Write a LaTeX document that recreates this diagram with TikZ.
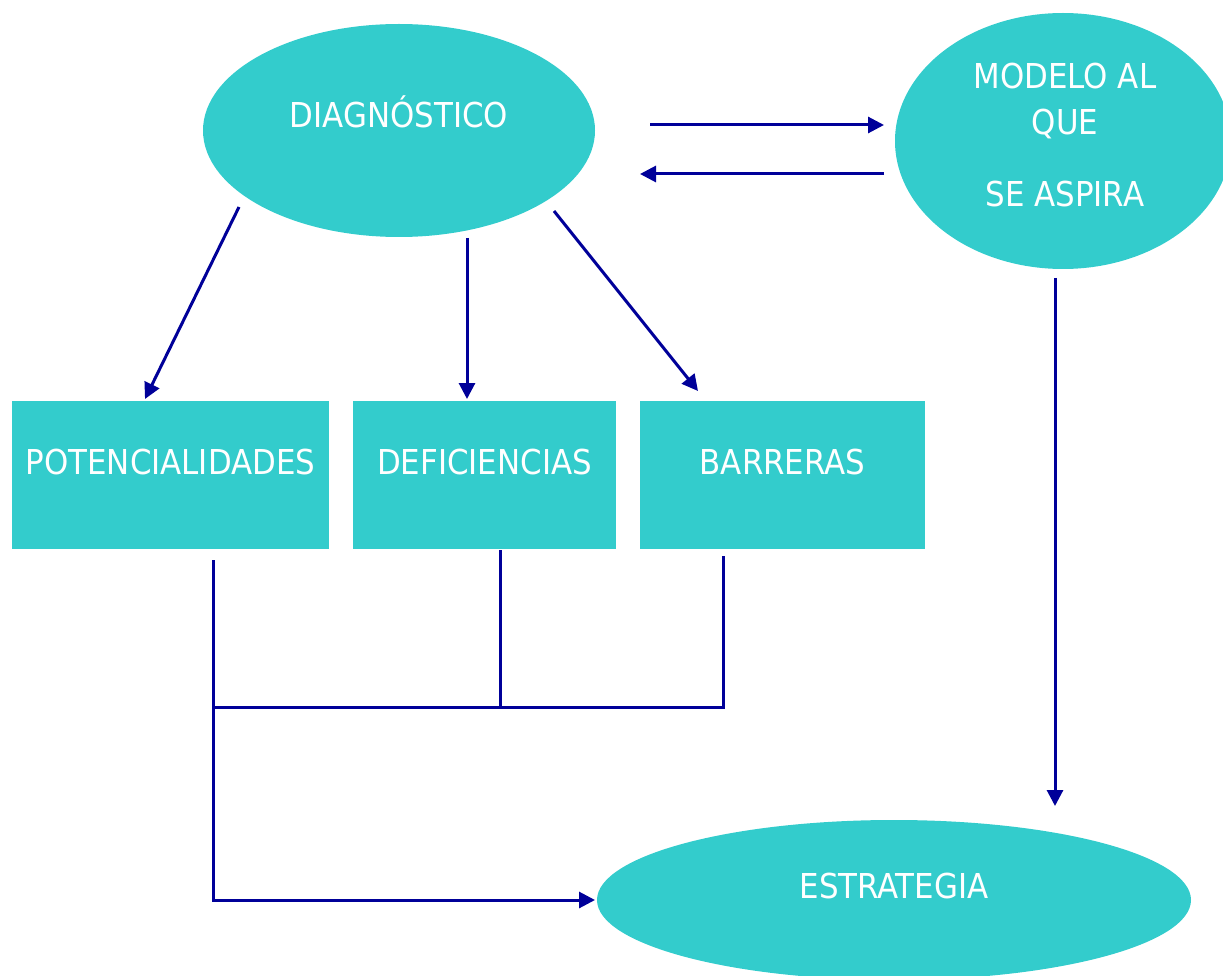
\documentclass[tikz,border=0pt]{standalone}
\usepackage{fontspec}
\setmainfont{DejaVu Sans Condensed}
\usetikzlibrary{shapes.geometric,arrows.meta}
\definecolor{teal1}{HTML}{33CCCC}
\definecolor{navy1}{HTML}{000099}
\tikzset{
  blob/.style={ellipse,fill=teal1,draw=none,inner sep=0pt},
  boxnode/.style={rectangle,fill=teal1,draw=none,inner sep=0pt},
  txt/.style={text=white,font=\fontsize{34.3}{40}\selectfont,anchor=base,inner sep=0pt},
  link/.style={draw=navy1,line width=3pt},
  arr/.style={link,-{Triangle[length=16pt,width=16pt]}}
}
\begin{document}
\begin{tikzpicture}[x=1pt,y=-1pt]
\useasboundingbox (0,0) rectangle (1223,976);
% shapes
\node[blob,minimum width=392pt,minimum height=213pt] (diag) at (399,130.5) {};
\node[blob,minimum width=336pt,minimum height=256pt] (modelo) at (1063,141) {};
\node[boxnode,minimum width=317pt,minimum height=148pt] (pot) at (170.5,475) {};
\node[boxnode,minimum width=263pt,minimum height=148pt] (def) at (484.5,475) {};
\node[boxnode,minimum width=285pt,minimum height=148pt] (bar) at (782.5,475) {};
\node[blob,minimum width=594pt,minimum height=160pt] (estr) at (894,900) {};
% texts
\node[txt] (tdiag) at (399,128) {DIAGNÓSTICO};
\node[txt] (tmod1) at (1065,89) {MODELO AL};
\node[txt] (tmod2) at (1065,135) {QUE};
\node[txt] (tmod3) at (1065,207) {SE ASPIRA};
\node[txt] (tpot) at (170.5,474) {POTENCIALIDADES};
\node[txt] (tdef) at (484.5,474) {DEFICIENCIAS};
\node[txt] (tbar) at (782.5,474) {BARRERAS};
\node[txt] (testr) at (894,898) {ESTRATEGIA};
% connector end points
\coordinate (a1s) at (650,125);
\coordinate (a1e) at (884,125);
\coordinate (a2s) at (884,174);
\coordinate (a2e) at (640,174);
\coordinate (a3s) at (239,207);
\coordinate (a3e) at (145,399);
\coordinate (a4s) at (467,238);
\coordinate (a4e) at (467,399);
\coordinate (a5s) at (554,211);
\coordinate (a5e) at (698,391);
\coordinate (a6s) at (1055,278);
\coordinate (a6e) at (1055,806);
\coordinate (b1s) at (213,560);
\coordinate (b1c) at (213,900);
\coordinate (b1e) at (595,900);
\coordinate (b2s) at (500,550);
\coordinate (b2e) at (500,707);
\coordinate (b3s) at (723,556);
\coordinate (b3c) at (723,707);
\coordinate (b3e) at (213,707);
% connectors
\draw[arr] (a1s) -- (a1e);
\draw[arr] (a2s) -- (a2e);
\draw[arr] (a3s) -- (a3e);
\draw[arr] (a4s) -- (a4e);
\draw[arr] (a5s) -- (a5e);
\draw[arr] (a6s) -- (a6e);
\draw[arr] (b1s) -- (b1c) -- (b1e);
\draw[link] (b2s) -- (b2e);
\draw[link] (b3s) -- (b3c) -- (b3e);
\end{tikzpicture}
\end{document}
